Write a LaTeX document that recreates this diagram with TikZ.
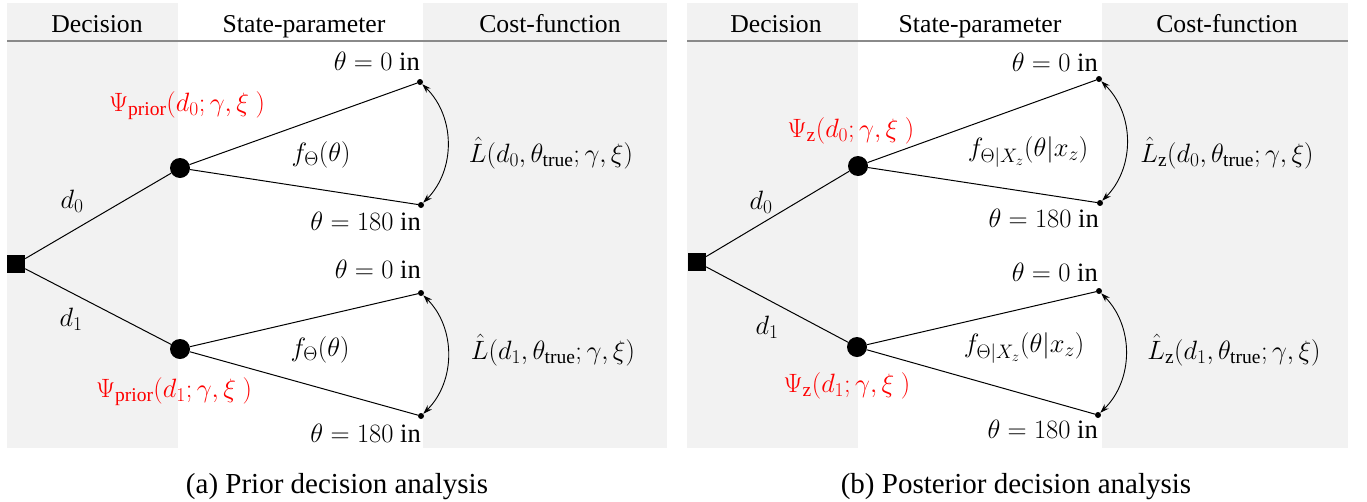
\RequirePackage{fix-cm}
\documentclass[tikz,border=0pt]{standalone}
\usepackage{fontspec}
\setmainfont{Liberation Serif}
\usetikzlibrary{arrows.meta}
\DeclareMathSizes{26.5}{26.5}{19.5}{14.5}
\definecolor{panelgrey}{HTML}{F2F2F2}
\definecolor{rulegrey}{HTML}{8A8A8A}
\begin{document}
\begin{tikzpicture}[x=1pt,y=-1pt,
  decisionnode/.style={fill=black, rectangle, minimum size=18pt, inner sep=0pt},
  chancenode/.style={fill=black, circle, minimum size=20pt, inner sep=0pt},
  enddot/.style={fill=black, circle, minimum size=6pt, inner sep=0pt},
  branch/.style={line width=1pt},
  lossarc/.style={line width=0.9pt, {Stealth[length=9pt,width=6pt]}-{Stealth[length=9pt,width=6pt]}, bend left=45},
  header/.style={font=\fontsize{25.7}{30}\selectfont, anchor=base, inner sep=0pt},
  captiontext/.style={font=\fontsize{29}{34}\selectfont, anchor=base, inner sep=0pt},
  mathlbl/.style={font=\fontsize{26.5}{31}\selectfont, inner sep=0pt},
  redlbl/.style={mathlbl, text=red},
  headrule/.style={draw=rulegrey, line width=1.5pt},
]
\useasboundingbox (0,0) rectangle (1367,501);

% ---------- backgrounds ----------
\fill[panelgrey] (7,3) rectangle (667,448);
\fill[white] (178,3) rectangle (423,448);
\fill[panelgrey] (687,3) rectangle (1348,448);
\fill[white] (858,3) rectangle (1102,448);

% header rules
\coordinate (ra1) at (7,41);
\coordinate (ra2) at (667,41);
\coordinate (rb1) at (687,41);
\coordinate (rb2) at (1348,41);
\draw[headrule] (ra1) -- (ra2);
\draw[headrule] (rb1) -- (rb2);

% headers
\node[header] (hda) at (97,32) {Decision};
\node[header] (hsa) at (304,32) {State-parameter};
\node[header] (hca) at (550,32) {Cost-function};
\node[header] (hdb) at (776,32) {Decision};
\node[header] (hsb) at (980,32) {State-parameter};
\node[header] (hcb) at (1227,32) {Cost-function};

% captions
\node[captiontext] (capa) at (337,493) {(a) Prior decision analysis};
\node[captiontext] (capb) at (1016,493) {(b) Posterior decision analysis};

% ---------- panel (a) ----------
\node[decisionnode] (sa) at (16,264) {};
\node[chancenode] (ca0) at (180,168) {};
\node[chancenode] (ca1) at (180,349) {};
\node[enddot] (ta0) at (420,82) {};
\node[enddot] (ba0) at (421,205) {};
\node[enddot] (ta1) at (421,293) {};
\node[enddot] (ba1) at (421,416) {};

\draw[branch] (sa) -- (ca0);
\draw[branch] (sa) -- (ca1);
\draw[branch] (ca0) -- (ta0);
\draw[branch] (ca0) -- (ba0);
\draw[branch] (ca1) -- (ta1);
\draw[branch] (ca1) -- (ba1);
\draw[lossarc] (ta0) to (ba0);
\draw[lossarc] (ta1) to (ba1);

\node[mathlbl, anchor=base east] (lta0) at (420,70) {$\theta = 0\ \mathrm{in}$};
\node[mathlbl, anchor=base east] (lba0) at (421,230) {$\theta = 180\ \mathrm{in}$};
\node[mathlbl, anchor=base east] (lta1) at (421,278) {$\theta = 0\ \mathrm{in}$};
\node[mathlbl, anchor=base east] (lba1) at (421,442) {$\theta = 180\ \mathrm{in}$};

\node[mathlbl] (da0) at (72,201) {$d_0$};
\node[mathlbl] (da1) at (71,319) {$d_1$};
\node[mathlbl] (fa0) at (321,155) {$f_\Theta(\theta)$};
\node[mathlbl] (fa1) at (320,350) {$f_\Theta(\theta)$};
\node[mathlbl] (la0) at (551,153) {$\hat{L}(d_0,\theta_{\mathrm{true}};\gamma,\xi)$};
\node[mathlbl] (la1) at (553,350) {$\hat{L}(d_1,\theta_{\mathrm{true}};\gamma,\xi)$};
\node[redlbl] (pa0) at (187,106) {$\Psi_{\mathrm{prior}}(d_0;\gamma,\xi\ )$};
\node[redlbl] (pa1) at (174,392) {$\Psi_{\mathrm{prior}}(d_1;\gamma,\xi\ )$};

% ---------- panel (b) ----------
\node[decisionnode] (sb) at (697,262) {};
\node[chancenode] (cb0) at (858,166) {};
\node[chancenode] (cb1) at (857,347) {};
\node[enddot] (tb0) at (1099,79) {};
\node[enddot] (bb0) at (1100,203) {};
\node[enddot] (tb1) at (1099,291) {};
\node[enddot] (bb1) at (1098,415) {};

\draw[branch] (sb) -- (cb0);
\draw[branch] (sb) -- (cb1);
\draw[branch] (cb0) -- (tb0);
\draw[branch] (cb0) -- (bb0);
\draw[branch] (cb1) -- (tb1);
\draw[branch] (cb1) -- (bb1);
\draw[lossarc] (tb0) to (bb0);
\draw[lossarc] (tb1) to (bb1);

\node[mathlbl, anchor=base east] (ltb0) at (1098,71) {$\theta = 0\ \mathrm{in}$};
\node[mathlbl, anchor=base east] (lbb0) at (1099,227) {$\theta = 180\ \mathrm{in}$};
\node[mathlbl, anchor=base east] (ltb1) at (1098,281) {$\theta = 0\ \mathrm{in}$};
\node[mathlbl, anchor=base east] (lbb1) at (1098,438) {$\theta = 180\ \mathrm{in}$};

\node[mathlbl] (db0) at (761,202) {$d_0$};
\node[mathlbl] (db1) at (767,327) {$d_1$};
\node[mathlbl] (fb0) at (1028,152) {$f_{\Theta|X_z}(\theta|x_z)$};
\node[mathlbl] (fb1) at (1024,348) {$f_{\Theta|X_z}(\theta|x_z)$};
\node[mathlbl] (lb0) at (1227,153) {$\hat{L}_{\mathrm{z}}(d_0,\theta_{\mathrm{true}};\gamma,\xi)$};
\node[mathlbl] (lb1) at (1234,350) {$\hat{L}_{\mathrm{z}}(d_1,\theta_{\mathrm{true}};\gamma,\xi)$};
\node[redlbl] (pb0) at (851,131) {$\Psi_{\mathrm{z}}(d_0;\gamma,\xi\ )$};
\node[redlbl] (pb1) at (847,386) {$\Psi_{\mathrm{z}}(d_1;\gamma,\xi\ )$};
\end{tikzpicture}
\end{document}
